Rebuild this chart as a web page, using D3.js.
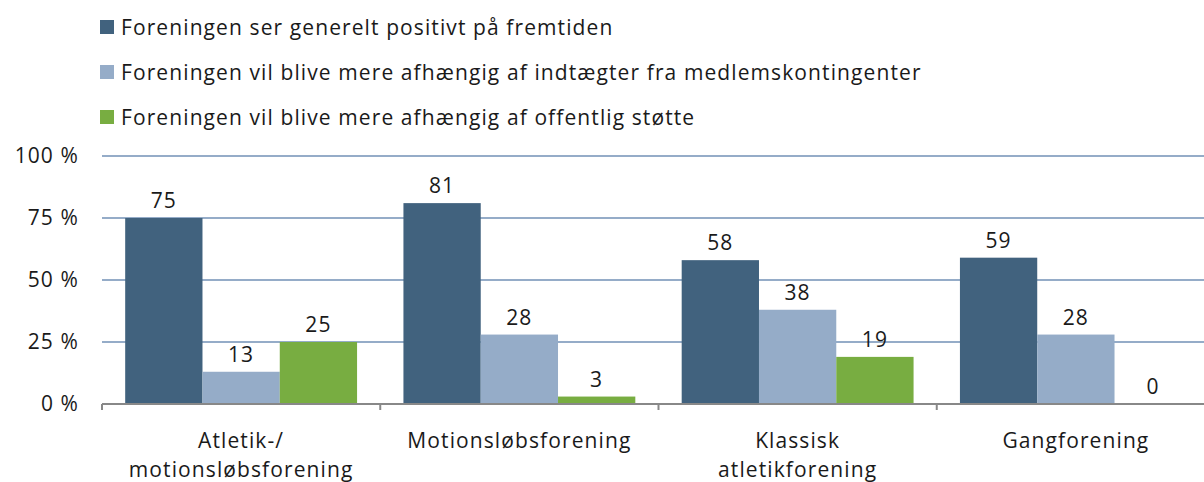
<!DOCTYPE html>
<meta charset="utf-8">
<style>
body { margin: 0; background: #fff; }
text { font-family: "Open Sans", sans-serif; fill: #1a1a1a; font-size: 21px; letter-spacing: 1.1px; }
</style>
<svg width="1204" height="482"></svg>
<script src="https://d3js.org/d3.v7.min.js"></script>
<script>

var categories = [["Atletik-/", "motionsløbsforening"], ["Motionsløbsforening"], ["Klassisk", "atletikforening"], ["Gangforening"]];
var seriesNames = [
    "Foreningen ser generelt positivt på fremtiden",
    "Foreningen vil blive mere afhængig af indtægter fra medlemskontingenter",
    "Foreningen vil blive mere afhængig af offentlig støtte"
];
var positive = [75, 81, 58, 59];
var kontingent = [13, 28, 38, 28];
var offentlig = [25, 3, 19, 0];
var colors = ["#41627e", "#95acc8", "#78ad41"];
var yTicks = [0, 25, 50, 75, 100];

var series = [positive, kontingent, offentlig];
var data = categories.map(function(c, i) {
    return { key: i, values: series.map(function(s, j) { return { s: j, v: s[i] }; }) };
});

var svg = d3.select("svg");
var plotLeft = 102, plotRight = 1215, plotTop = 156, plotBottom = 404;

var x0 = d3.scaleBand().domain(d3.range(categories.length)).range([plotLeft, plotRight]);
var x1 = d3.scaleBand().domain(d3.range(series.length)).range([0, x0.bandwidth()]).paddingOuter(0.3);
var y = d3.scaleLinear().domain([0, 100]).range([plotBottom, plotTop]);

// gridlines
svg.append("g")
    .selectAll("line")
    .data(yTicks.filter(function(d) { return d > 0; }))
    .enter().append("line")
    .attr("x1", plotLeft).attr("x2", 1204)
    .attr("y1", function(d) { return y(d); })
    .attr("y2", function(d) { return y(d); })
    .attr("stroke", "#95acc8")
    .attr("stroke-width", 2);

// y labels
svg.append("g")
    .selectAll("text")
    .data(yTicks)
    .enter().append("text")
    .attr("x", 79)
    .attr("y", function(d) { return y(d); })
    .attr("dy", "0.33em")
    .attr("text-anchor", "end")
    .text(function(d) { return d + " %"; });

// bars
var groups = svg.append("g")
    .selectAll("g")
    .data(data)
    .enter().append("g")
    .attr("transform", function(d) { return "translate(" + x0(d.key) + ",0)"; });

groups.selectAll("rect")
    .data(function(d) { return d.values; })
    .enter().append("rect")
    .attr("x", function(d) { return x1(d.s); })
    .attr("width", x1.bandwidth())
    .attr("y", function(d) { return y(d.v); })
    .attr("height", function(d) { return plotBottom - y(d.v); })
    .attr("fill", function(d) { return colors[d.s]; });

groups.selectAll("text")
    .data(function(d) { return d.values; })
    .enter().append("text")
    .attr("x", function(d) { return x1(d.s) + x1.bandwidth() / 2; })
    .attr("y", function(d) { return y(d.v) - 10; })
    .attr("text-anchor", "middle")
    .text(function(d) { return d.v; });

// x axis
svg.append("line")
    .attr("x1", plotLeft).attr("x2", 1204)
    .attr("y1", plotBottom).attr("y2", plotBottom)
    .attr("stroke", "#888").attr("stroke-width", 2);

svg.append("g")
    .selectAll("line")
    .data(d3.range(categories.length + 1))
    .enter().append("line")
    .attr("x1", function(d) { return plotLeft + d * x0.bandwidth(); })
    .attr("x2", function(d) { return plotLeft + d * x0.bandwidth(); })
    .attr("y1", plotBottom).attr("y2", plotBottom + 6)
    .attr("stroke", "#888").attr("stroke-width", 2);

var cat = svg.append("g")
    .selectAll("text")
    .data(categories)
    .enter().append("text")
    .attr("text-anchor", "middle")
    .attr("transform", function(d, i) { return "translate(" + (x0(i) + x0.bandwidth() / 2) + ",448)"; });

cat.selectAll("tspan")
    .data(function(d) { return d; })
    .enter().append("tspan")
    .attr("x", 0)
    .attr("y", function(d, i) { return i * 29; })
    .text(function(d) { return d; });

// legend
var legend = svg.append("g")
    .selectAll("g")
    .data(seriesNames)
    .enter().append("g")
    .attr("transform", function(d, i) { return "translate(100," + (35 + i * 45) + ")"; });

legend.append("rect")
    .attr("x", 0).attr("y", -15)
    .attr("width", 14).attr("height", 14)
    .attr("fill", function(d, i) { return colors[i]; });

legend.append("text")
    .attr("x", 21).attr("y", 0)
    .text(function(d) { return d; });

</script>
